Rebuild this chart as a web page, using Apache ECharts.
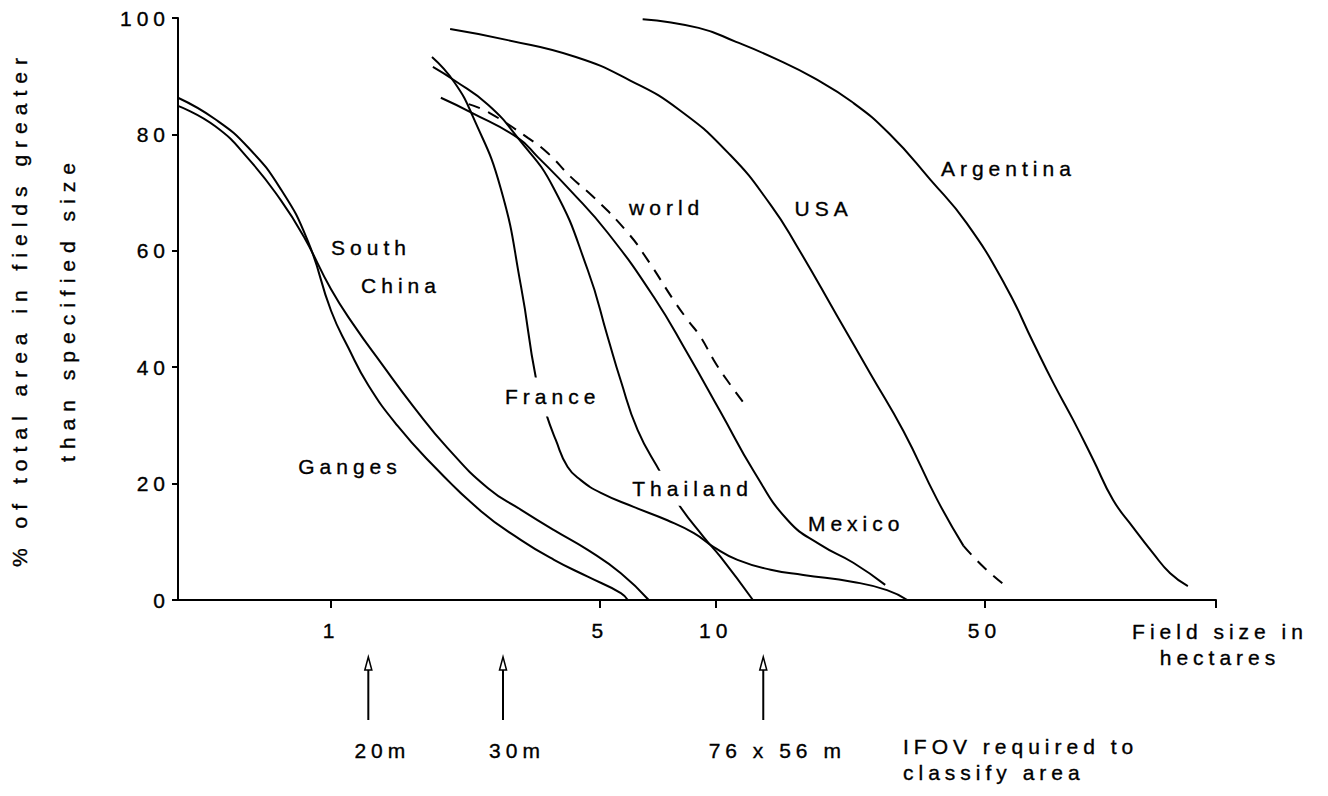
<!DOCTYPE html>
<html>
<head>
<meta charset="utf-8">
<script src="https://cdn.jsdelivr.net/npm/echarts@6/dist/echarts.min.js"></script>
<style>
  html, body { margin: 0; padding: 0; background: #fff; }
  #chart { width: 1328px; height: 796px; }
  /* typewriter-like wide spacing and slightly heavy strokes for every label */
  #chart text { letter-spacing: 5px; stroke: #000; stroke-width: 0.35px; }
</style>
</head>
<body>
<div id="chart"></div>
<script>
const FONT = '"Liberation Sans", Arial, Helvetica, sans-serif';

// Cumulative curves: [field size (ha), % of total area in fields greater than that size]
const ganges = [[0.4, 86.3], [0.5, 82.6], [0.61, 77.7], [0.74, 70.6], [0.87, 61.7], [1.0, 49.7],
  [1.11, 43.3], [1.25, 36.9], [1.49, 29.9], [1.82, 23.5], [2.45, 15.3], [3.12, 10.3], [3.8, 6.9],
  [4.65, 4.0], [5.67, 1.2], [5.91, 0]];
const southChina = [[0.4, 84.9], [0.5, 81.4], [0.61, 75.8], [0.74, 68.7], [0.85, 62.4], [1.0, 53.4],
  [1.15, 47.1], [1.35, 40.7], [1.64, 33.2], [2.01, 26.1], [2.56, 19.2], [3.12, 15.5], [3.8, 12.0],
  [4.65, 8.6], [5.67, 4.6], [6.7, 0]];
const france = [[1.83, 93.3], [2.09, 89.0], [2.34, 83.0], [2.76, 70.8], [3.12, 53.8], [3.41, 38.1],
  [3.62, 32.1], [3.84, 27.5], [4.12, 22.9], [4.46, 20.6], [5.03, 18.4], [6.12, 16.0], [7.49, 13.7],
  [8.78, 11.5], [9.89, 9.1], [11.4, 6.9], [13.9, 5.2], [16.9, 4.3], [22.8, 3.1], [27.9, 1.7], [31.5, 0]];
const thailand = [[1.84, 91.6], [2.09, 89.3], [2.56, 85.1], [3.06, 79.4], [3.79, 70.8], [4.65, 56.7],
  [5.24, 45.2], [5.66, 37.8], [6.27, 29.2], [7.2, 21.8], [7.96, 16.7], [9.31, 10.8], [10.3, 7.4], [12.5, 0]];
const mexico = [[1.93, 86.3], [2.31, 83.8], [3.06, 79.4], [3.45, 76.1], [4.2, 70.3], [5.24, 63.1],
  [6.9, 52.1], [8.46, 42.3], [10.3, 32.3], [12.6, 22.0], [15.4, 13.7], [18.7, 9.5], [22.8, 6.4], [27.6, 2.6]];
const world = [[2.28, 85.2], [2.58, 83.7], [3.25, 79.4], [3.66, 76.8], [4.2, 72.7], [4.82, 69.2],
  [5.91, 63.1], [6.66, 58.4], [7.78, 51.5], [8.46, 48.1], [9.14, 45.2], [9.89, 41.2], [10.7, 37.8], [12.1, 33.0]];
const usa = [[2.04, 98.1], [2.88, 96.2], [4.33, 93.3], [5.98, 89.3], [8.05, 84.2], [10.9, 76.5],
  [13.9, 67.9], [16.3, 60.7], [20.7, 48.8], [25.3, 38.8], [30.8, 29.0], [37.7, 17.2], [44.1, 9.3]];
const usaExtrapolated = [[44.1, 9.3], [49.5, 5.8], [56.3, 2.6]];
const argentina = [[6.46, 99.8], [9.03, 98.3], [11.3, 95.9], [14.2, 93.1], [18.0, 89.7], [22.6, 85.6],
  [28.3, 80.1], [36.2, 72.2], [44.9, 64.8], [56.6, 54.1], [67.0, 44.2], [75.5, 37.3], [85.1, 30.9],
  [95.9, 24.1], [108, 17.2], [122, 12.4], [137, 8.1], [152, 4.6], [169, 2.4]];

// Curve names, anchored in data space
const labelTexts = ['Ganges', 'South', 'China', 'France', 'world', 'USA', 'Argentina', 'Thailand', 'Mexico'];
const labelAnchors = [[1.12, 22.9], [1.27, 60.5], [1.52, 54.1], [3.77, 34.9], [7.46, 67.4],
  [19.1, 67.2], [57.7, 74.1], [8.71, 19.2], [23.2, 13.2]];

// Sensor pixel sizes and the smallest field size each can classify
const ifovFieldSizes = [1.25, 2.8, 13.3];
const ifovLabels = ['20m', '30m', '76 x 56 m'];

// Axis ticks
const xLabelValues = [1, 5, 10, 50];
const xTickValues = [1, 5, 10, 50, 200];

// Labels that sit on top of a curve get a taller white box so the curve breaks around them
const labelPadding = { France: [9, 3], Thailand: [7, 3] };

function curve(name, data, dashed) {
  return {
    type: 'line', name, data,
    smooth: 0.5, symbol: 'none', silent: true, z: 2,
    lineStyle: { color: '#000', width: 2, type: dashed ? [12, 9] : 'solid' }
  };
}

const chart = echarts.init(document.getElementById('chart'), null, { renderer: 'svg' });

chart.setOption({
  animation: false,
  backgroundColor: '#fff',
  textStyle: { fontFamily: FONT, color: '#000' },
  grid: { left: 178, right: 112, top: 18, bottom: 196, containLabel: false, outerBoundsMode: 'none' },
  xAxis: {
    type: 'log', logBase: 10, min: 0.4, max: 200,
    axisLine: { lineStyle: { color: '#000', width: 2 } },
    axisTick: { show: true, customValues: xTickValues, length: 8, lineStyle: { color: '#000', width: 2 } },
    minorTick: { show: false },
    splitLine: { show: false },
    axisLabel: {
      customValues: xLabelValues, margin: 20, color: '#000', fontSize: 21, fontFamily: FONT,
      formatter: v => String(Math.round(v * 100) / 100)
    },
    name: 'Field size in\nhectares', nameLocation: 'end', nameGap: 4,
    nameTextStyle: {
      align: 'center', verticalAlign: 'top', padding: [18, 0, 0, 0], lineHeight: 26,
      fontSize: 21, fontFamily: FONT, color: '#000'
    }
  },
  yAxis: {
    type: 'value', min: 0, max: 100, interval: 20,
    axisLine: { show: true, lineStyle: { color: '#000', width: 2 } },
    axisTick: { show: true, length: 6, lineStyle: { color: '#000', width: 2 } },
    splitLine: { show: false },
    axisLabel: { margin: 8, color: '#000', fontSize: 21, fontFamily: FONT },
    name: '% of total area in fields greater\nthan specified size',
    nameLocation: 'middle', nameGap: 87, nameMoveOverlap: false,
    nameTextStyle: { fontSize: 21, fontFamily: FONT, color: '#000', lineHeight: 48 }
  },
  graphic: [{
    type: 'text', left: 903, top: 733, silent: true,
    style: { text: 'IFOV required to\nclassify area', fontSize: 21, fontFamily: FONT, fill: '#000', lineHeight: 26 }
  }],
  series: [
    curve('Ganges', ganges),
    curve('South China', southChina),
    curve('France', france),
    curve('Thailand', thailand),
    curve('Mexico', mexico),
    curve('world', world, true),
    curve('USA', usa),
    curve('USA (extrapolated)', usaExtrapolated, true),
    curve('Argentina', argentina),
    {
      type: 'scatter', name: 'curve names', silent: true, z: 5,
      symbolSize: 0,
      itemStyle: { opacity: 1 },
      data: labelTexts.map((t, i) => ({
        name: t, value: labelAnchors[i],
        label: { padding: labelPadding[t] || [2, 2] }
      })),
      label: {
        show: true, position: 'inside', formatter: '{b}',
        color: '#000', fontSize: 21, fontFamily: FONT, backgroundColor: '#fff'
      }
    },
    {
      type: 'custom', name: 'IFOV', clip: false, silent: true, z: 3,
      data: ifovFieldSizes.map((v, i) => [v, i]),
      renderItem(params, api) {
        const p = api.coord([api.value(0), 0]);
        const x = p[0], y0 = p[1];
        return {
          type: 'group',
          children: [
            { type: 'line', shape: { x1: x, y1: y0 + 70, x2: x, y2: y0 + 120 },
              style: { stroke: '#000', lineWidth: 2 } },
            { type: 'polygon', shape: { points: [[x, y0 + 57], [x - 3.5, y0 + 70], [x + 3.5, y0 + 70]] },
              style: { fill: '#fff', stroke: '#000', lineWidth: 1.5 } },
            { type: 'text', x: x + 14, y: y0 + 150,
              style: { text: ifovLabels[api.value(1)], fontSize: 21, fontFamily: FONT, fill: '#000',
                       align: 'center', verticalAlign: 'middle' } }
          ]
        };
      }
    }
  ]
});

// The rotated y-axis title is set a little wider than the other labels
document.querySelectorAll('#chart text').forEach(t => {
  if (/^(% of total|than specified)/.test(t.textContent.trim())) t.style.letterSpacing = '7px';
});
</script>
</body>
</html>
